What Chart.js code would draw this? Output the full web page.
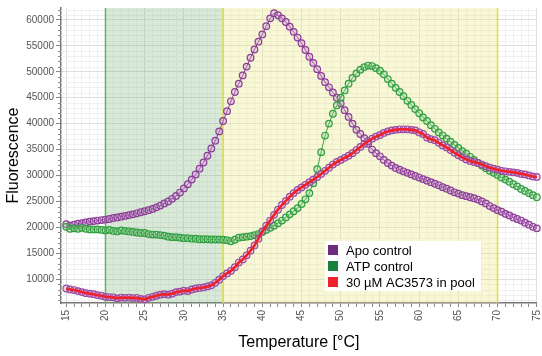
<!DOCTYPE html>
<html>
<head>
<meta charset="utf-8">
<script src="https://cdn.jsdelivr.net/npm/chart.js@4"></script>
<style>
html, body { margin: 0; padding: 0; background: #fff; }
</style>
</head>
<body>
<canvas id="myChart" width="542" height="356"></canvas>
<script>
// temperature in °C, one reading every 0.5 degree
const temps = [
    15, 15.5, 16, 16.5, 17, 17.5, 18, 18.5, 19, 19.5,
    20, 20.5, 21, 21.5, 22, 22.5, 23, 23.5, 24, 24.5,
    25, 25.5, 26, 26.5, 27, 27.5, 28, 28.5, 29, 29.5,
    30, 30.5, 31, 31.5, 32, 32.5, 33, 33.5, 34, 34.5,
    35, 35.5, 36, 36.5, 37, 37.5, 38, 38.5, 39, 39.5,
    40, 40.5, 41, 41.5, 42, 42.5, 43, 43.5, 44, 44.5,
    45, 45.5, 46, 46.5, 47, 47.5, 48, 48.5, 49, 49.5,
    50, 50.5, 51, 51.5, 52, 52.5, 53, 53.5, 54, 54.5,
    55, 55.5, 56, 56.5, 57, 57.5, 58, 58.5, 59, 59.5,
    60, 60.5, 61, 61.5, 62, 62.5, 63, 63.5, 64, 64.5,
    65, 65.5, 66, 66.5, 67, 67.5, 68, 68.5, 69, 69.5,
    70, 70.5, 71, 71.5, 72, 72.5, 73, 73.5, 74, 74.5,
    75
];

const apoControl = [
    20600, 20300, 20500, 20700, 20800, 20950, 21100, 21200, 21300, 21400,
    21500, 21600, 21800, 21900, 22050, 22200, 22350, 22500, 22700, 22900,
    23100, 23300, 23550, 23850, 24200, 24600, 25000, 25500, 26050, 26700,
    27500, 28300, 29200, 30200, 31300, 32500, 33800, 35200, 36700, 38500,
    40500, 42400, 44300, 46100, 47700, 49300, 51000, 52700, 54300, 55800,
    57200, 58800, 60300, 61300, 60900, 60300, 59600, 58700, 57700, 56600,
    55500, 54200, 52900, 51700, 50500, 49200, 48000, 47000, 46000, 45000,
    43900, 42600, 41300, 40000, 38800, 38000, 37200, 36100, 35000, 34300,
    33700, 33000, 32400, 31900, 31450, 31100, 30800, 30500, 30200, 29900,
    29600, 29300, 29000, 28700, 28400, 28100, 27750, 27450, 27100, 26750,
    26500, 26200, 26000, 25800, 25600, 25350, 25000, 24600, 24100, 23700,
    23300, 23000, 22600, 22300, 21900, 21600, 21300, 20900, 20500, 20100,
    19800
];

const atpControl = [
    20100, 19700, 19800, 19700, 19900, 19700, 19600, 19600, 19600, 19500,
    19400, 19500, 19300, 19200, 19400, 19300, 19200, 19100, 19000, 18900,
    18900, 18700, 18600, 18600, 18500, 18400, 18200, 18100, 18100, 18000,
    17900, 17900, 17800, 17800, 17700, 17700, 17700, 17650, 17650, 17650,
    17600, 17500, 17300, 17600, 18000, 18100, 18200, 18300, 18500, 18700,
    19100, 19500, 19900, 20300, 20800, 21300, 21900, 22500, 23100, 23700,
    24500, 25400, 26600, 28500, 31200, 34500, 37700, 40000, 41900, 43500,
    45000, 46400, 47700, 48800, 49700, 50400, 50900, 51200, 51100, 50700,
    50200, 49500, 48600, 47700, 46900, 46100, 45300, 44400, 43600, 42800,
    42000, 41200, 40500, 39700, 39000, 38300, 37700, 37100, 36500, 35900,
    35300, 34700, 34200, 33600, 33000, 32400, 31900, 31400, 30900, 30500,
    30100, 29600, 29200, 28800, 28300, 27900, 27400, 27000, 26600, 26200,
    25800
];

const poolAC3573 = [
    8200, 8000, 7900, 7700, 7500, 7300, 7200, 7100, 6900, 6800,
    6600, 6550, 6500, 6300, 6450, 6400, 6450, 6350, 6400, 6200,
    6100, 6400, 6600, 6800, 7000, 7100, 7000, 7200, 7500, 7600,
    7800, 7700, 8000, 8200, 8300, 8400, 8600, 8800, 9300, 9900,
    10600, 11100, 11600, 12300, 13200, 13800, 14600, 15500, 16500, 17800,
    19200, 20300, 21300, 22400, 23400, 24300, 25100, 25900, 26600, 27200,
    27700, 28200, 28700, 29200, 29700, 30300, 30900, 31500, 32100, 32600,
    33000, 33400, 33800, 34300, 34900, 35500, 36100, 36600, 37100, 37500,
    37800, 38200, 38500, 38700, 38800, 38900, 38900, 38900, 38800, 38700,
    38300, 38000, 37300, 37000, 36800, 36300, 35800, 35400, 34900, 34400,
    33900, 33500, 33100, 32800, 32600, 32400, 32100, 31800, 31500, 31300,
    31100, 30900, 30800, 30700, 30600, 30500, 30300, 30200, 30000, 29800,
    29700
];

const yTickValues = [10000, 15000, 20000, 25000, 30000, 35000, 40000, 45000, 50000, 55000, 60000];

const seriesLabels = ['Apo control', 'ATP control', '30 µM AC3573 in pool'];
const legendColors = ['#6b2c7d', '#17803d', '#f0222c'];

// shaded temperature windows
const greenBand = [20, 35];
const yellowBand = [35, 70];

const fontFamily = '"Liberation Sans", Arial, sans-serif';

function pts(values) {
    return temps.map((t, i) => ({ x: t, y: values[i] }));
}

// minor gridlines + ticks on the y axis every 1000
const minorY = {
    id: 'minorY',
    beforeDatasetsDraw(chart) {
        const ctx = chart.ctx, a = chart.chartArea, y = chart.scales.y;
        ctx.save();
        ctx.lineWidth = 1;
        for (let v = Math.ceil(y.min / 1000) * 1000; v <= y.max; v += 1000) {
            if (v % 5000 === 0) continue;
            const py = Math.round(y.getPixelForValue(v)) + 0.5;
            ctx.strokeStyle = '#f1f1f1';
            ctx.beginPath(); ctx.moveTo(a.left, py); ctx.lineTo(a.right, py); ctx.stroke();
            ctx.strokeStyle = '#888';
            ctx.beginPath(); ctx.moveTo(a.left - 3, py); ctx.lineTo(a.left, py); ctx.stroke();
        }
        ctx.restore();
    }
};

const bands = {
    id: 'bands',
    beforeDatasetsDraw(chart) {
        const ctx = chart.ctx, a = chart.chartArea, x = chart.scales.x;
        const g0 = x.getPixelForValue(greenBand[0]), g1 = x.getPixelForValue(greenBand[1]);
        const y0 = x.getPixelForValue(yellowBand[0]), y1 = x.getPixelForValue(yellowBand[1]);
        ctx.save();
        ctx.fillStyle = 'rgba(110,175,110,0.27)';
        ctx.fillRect(g0, a.top, g1 - g0, a.bottom - a.top);
        ctx.fillStyle = 'rgba(232,232,130,0.32)';
        ctx.fillRect(y0, a.top, y1 - y0, a.bottom - a.top);
        ctx.lineWidth = 1.5;
        ctx.strokeStyle = '#5fb65f';
        ctx.beginPath(); ctx.moveTo(g0, a.top); ctx.lineTo(g0, a.bottom); ctx.stroke();
        ctx.strokeStyle = '#e2dc3c';
        ctx.beginPath();
        ctx.moveTo(y0, a.top); ctx.lineTo(y0, a.bottom);
        ctx.moveTo(y1, a.top); ctx.lineTo(y1, a.bottom);
        ctx.stroke();
        ctx.restore();
    }
};

const boxLegend = {
    id: 'boxLegend',
    afterDraw(chart) {
        const ctx = chart.ctx, a = chart.chartArea;
        const left = a.left + 264, top = a.top + 233;
        ctx.save();
        ctx.fillStyle = '#fff';
        ctx.fillRect(left, top, 156, 50);
        ctx.font = '13px ' + fontFamily;
        ctx.textBaseline = 'middle';
        seriesLabels.forEach((lab, i) => {
            const cy = top + 9 + i * 16;
            ctx.fillStyle = legendColors[i];
            ctx.fillRect(left + 3, cy - 5, 10, 10);
            ctx.fillStyle = '#000';
            ctx.fillText(lab, left + 21, cy + 1);
        });
        ctx.restore();
    }
};

const config = {
    type: 'line',
    data: {
        datasets: [{
            label: seriesLabels[2],
            data: pts(poolAC3573),
            borderColor: '#f0202a',
            borderWidth: 2.6,
            pointRadius: 0,
            clip: 5,
            order: 0
        }, {
            label: 'pool markers',
            data: pts(poolAC3573),
            showLine: false,
            pointRadius: 3.3,
            pointBorderWidth: 1.2,
            pointBorderColor: '#9a4aa3',
            pointBackgroundColor: 'rgba(200,150,210,0.35)',
            clip: 5,
            order: 1
        }, {
            label: seriesLabels[1],
            data: pts(atpControl),
            borderColor: '#34a345',
            borderWidth: 1,
            pointRadius: 3.3,
            pointBorderWidth: 1.2,
            pointBorderColor: '#2f9e3f',
            pointBackgroundColor: 'rgba(150,210,150,0.35)',
            clip: 5,
            order: 2
        }, {
            label: seriesLabels[0],
            data: pts(apoControl),
            borderColor: '#8b3c96',
            borderWidth: 1,
            pointRadius: 3.3,
            pointBorderWidth: 1.2,
            pointBorderColor: '#8b3c96',
            pointBackgroundColor: 'rgba(200,150,210,0.35)',
            clip: 5,
            order: 3
        }]
    },
    options: {
        responsive: false,
        animation: false,
        layout: { padding: { top: 6, right: 0 } },
        scales: {
            x: {
                type: 'linear',
                min: 14.33,
                max: 75,
                border: { color: '#777', width: 1.5 },
                grid: {
                    color: c => c.tick && c.tick.value % 5 === 0 ? '#dedede' : '#f1f1f1',
                    tickColor: '#888',
                    tickLength: 4
                },
                ticks: {
                    stepSize: 1,
                    includeBounds: false,
                    autoSkip: false,
                    minRotation: 90,
                    maxRotation: 90,
                    color: '#555',
                    font: { size: 10, family: fontFamily },
                    callback: v => v % 5 === 0 ? v : ''
                },
                title: {
                    display: true,
                    text: 'Temperature [°C]',
                    color: '#000',
                    font: { size: 16, family: fontFamily }
                },
                afterFit: s => { s.height = 53; s.paddingLeft = 0; s.paddingRight = 0; }
            },
            y: {
                min: 5400,
                max: 62300,
                border: { color: '#777', width: 1.5 },
                grid: {
                    color: '#dedede',
                    tickColor: '#888',
                    tickLength: 5
                },
                ticks: {
                    autoSkip: false,
                    color: '#555',
                    padding: 2,
                    font: { size: 10, family: fontFamily },
                    callback: v => String(v)
                },
                afterBuildTicks: s => { s.ticks = yTickValues.map(v => ({ value: v })); },
                title: {
                    display: true,
                    text: 'Fluorescence',
                    color: '#000',
                    font: { size: 16, family: fontFamily }
                },
                afterFit: s => { s.width = 61; }
            }
        },
        plugins: {
            legend: { display: false },
            tooltip: { enabled: false }
        }
    },
    plugins: [minorY, bands, boxLegend]
};

const myChart = new Chart(document.getElementById('myChart'), config);
</script>
</body>
</html>
